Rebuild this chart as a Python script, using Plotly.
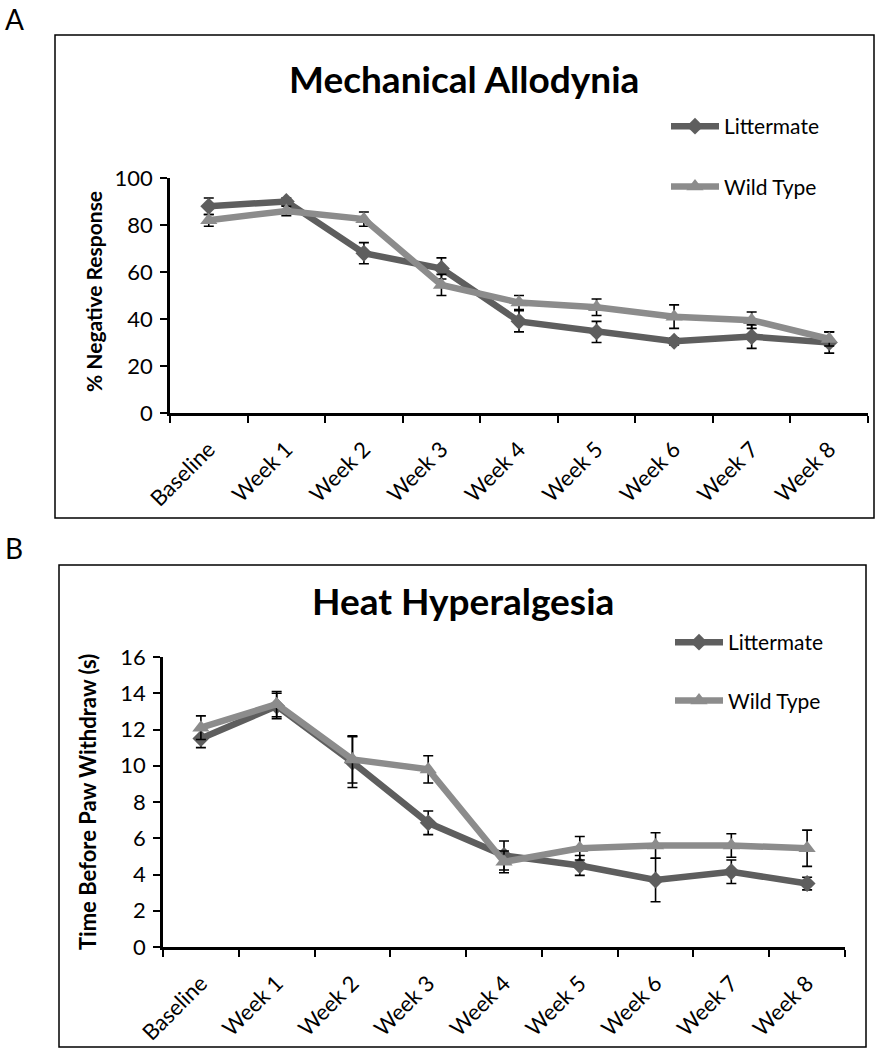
import plotly.graph_objects as go

W, H = 877, 1050

categories = ["Baseline", "Week 1", "Week 2", "Week 3", "Week 4",
              "Week 5", "Week 6", "Week 7", "Week 8"]

# Panel A: Mechanical Allodynia (% negative response)
a_littermate = [88, 90, 68, 61.5, 39, 34.5, 30.5, 32.5, 30]
a_littermate_err = [3.5, 1.5, 4.5, 4.5, 4.5, 4.5, 1.5, 5, 4.5]
a_wildtype = [82, 86, 82.5, 54.5, 47, 45, 41, 39.5, 31.5]
a_wildtype_err = [2.5, 2, 3, 4.5, 3, 3.5, 5, 3.5, 3]

# Panel B: Heat Hyperalgesia (seconds)
b_littermate = [11.5, 13.3, 10.2, 6.85, 5.05, 4.5, 3.7, 4.15, 3.5]
b_littermate_err = [0.5, 0.7, 1.4, 0.65, 0.8, 0.55, 1.2, 0.65, 0.35]
b_wildtype = [12.1, 13.4, 10.35, 9.8, 4.7, 5.45, 5.6, 5.6, 5.45]
b_wildtype_err = [0.65, 0.7, 1.3, 0.75, 0.6, 0.65, 0.7, 0.65, 1.0]

a_yticks = [0, 20, 40, 60, 80, 100]
b_yticks = [0, 2, 4, 6, 8, 10, 12, 14, 16]

FONT = "Lato, 'Open Sans', sans-serif"
C_LIT = "#5e5e5e"
C_WT = "#8c8c8c"


def px(x):
    return x / W


def py(y):
    return 1 - y / H


fig = go.Figure()


def add_series(y, err, name, color, symbol, msize, xa, ya, legend):
    fig.add_trace(go.Scatter(
        x=categories, y=y, name=name, mode="lines+markers",
        xaxis=xa, yaxis=ya, legend=legend,
        line=dict(color=color, width=6.5),
        marker=dict(symbol=symbol, size=msize, color=color),
        error_y=dict(type="data", array=err, color="black",
                     thickness=1.6, width=5),
        legendgroup=legend + name,
    ))


add_series(a_littermate, a_littermate_err, "Littermate", C_LIT, "diamond", 13, "x", "y", "legend")
add_series(a_wildtype, a_wildtype_err, "Wild Type", C_WT, "triangle-up", 15, "x", "y", "legend")
add_series(b_littermate, b_littermate_err, "Littermate", C_LIT, "diamond", 13, "x2", "y2", "legend2")
add_series(b_wildtype, b_wildtype_err, "Wild Type", C_WT, "triangle-up", 15, "x2", "y2", "legend2")

xaxis_common = dict(
    type="category", range=[-0.5, 8.5], tickson="boundaries",
    ticks="outside", ticklen=7, tickwidth=2, tickcolor="black",
    showline=True, linecolor="black", linewidth=2.5,
    showgrid=False, zeroline=False, tickangle=-45,
    ticklabelstandoff=12,
    tickfont=dict(family=FONT, size=22, color="black"),
    fixedrange=True, automargin=False,
)
yaxis_common = dict(
    ticks="outside", ticklen=7, tickwidth=2, tickcolor="black",
    showline=True, linecolor="black", linewidth=2.5,
    showgrid=False, zeroline=False, ticklabelstandoff=3,
    tickfont=dict(family=FONT, size=22, color="black"),
    fixedrange=True, automargin=False,
)

fig.update_layout(
    width=W, height=H,
    margin=dict(l=0, r=0, t=0, b=0, pad=0, autoexpand=False),
    paper_bgcolor="white", plot_bgcolor="white",
    font=dict(family=FONT, color="black"),
    xaxis=dict(xaxis_common, domain=[px(170), px(868)], anchor="y"),
    yaxis=dict(yaxis_common, domain=[py(413), py(178)], anchor="x",
               range=[0, 100], tickvals=a_yticks),
    xaxis2=dict(xaxis_common, domain=[px(163), px(845)], anchor="y2"),
    yaxis2=dict(yaxis_common, domain=[py(947), py(657)], anchor="x2",
                range=[0, 16], tickvals=b_yticks),
    legend=dict(x=px(666), y=py(106), xanchor="left", yanchor="top",
                bgcolor="rgba(0,0,0,0)", itemwidth=48,
                tracegroupgap=30, traceorder="grouped",
                font=dict(family=FONT, size=21, color="black")),
    legend2=dict(x=px(670), y=py(622), xanchor="left", yanchor="top",
                 bgcolor="rgba(0,0,0,0)", itemwidth=48,
                 tracegroupgap=28, traceorder="grouped",
                 font=dict(family=FONT, size=21, color="black")),
    showlegend=True,
)

# panel frames
fig.add_shape(type="rect", xref="paper", yref="paper",
              x0=px(55), x1=px(874), y0=py(518), y1=py(35),
              line=dict(color="black", width=1.5), layer="below")
fig.add_shape(type="rect", xref="paper", yref="paper",
              x0=px(59), x1=px(866), y0=py(1047), y1=py(565),
              line=dict(color="black", width=1.5), layer="below")

ann = [
    dict(text="A", x=px(3), y=py(19), xanchor="left", yanchor="middle",
         font=dict(size=28, family=FONT)),
    dict(text="B", x=px(3), y=py(548), xanchor="left", yanchor="middle",
         font=dict(size=28, family=FONT)),
    dict(text="<b>Mechanical Allodynia</b>", x=px(464), y=py(78),
         xanchor="center", yanchor="middle", font=dict(size=37, family=FONT)),
    dict(text="<b>Heat Hyperalgesia</b>", x=px(463), y=py(600),
         xanchor="center", yanchor="middle", font=dict(size=37, family=FONT)),
    dict(text="<b>% Negative Response</b>", x=px(93), y=py(292),
         xanchor="center", yanchor="middle", textangle=-90,
         font=dict(size=21, family=FONT)),
    dict(text="<b>Time Before Paw Withdraw (s)</b>", x=px(87), y=py(802),
         xanchor="center", yanchor="middle", textangle=-90,
         font=dict(size=22, family=FONT)),
]
for a in ann:
    a.update(xref="paper", yref="paper", showarrow=False)
    fig.add_annotation(**a)

fig.write_html(
    "out.html",
    config={"displayModeBar": False},
    post_script="document.body.style.margin='0px';document.body.style.overflow='hidden';",
)
